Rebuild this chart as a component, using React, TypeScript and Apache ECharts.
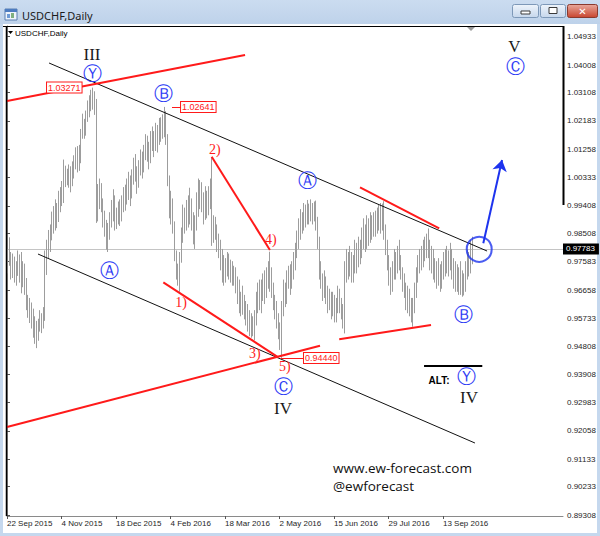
import React, { useEffect, useRef } from 'react';
import * as echarts from 'echarts';

// ---- axes ----
const tickBars = [0, 32, 64, 96, 128, 160, 192, 224, 256];
const tickLabels = ['22 Sep 2015', '4 Nov 2015', '18 Dec 2015', '4 Feb 2016', '18 Mar 2016', '2 May 2016', '15 Jun 2016', '29 Jul 2016', '13 Sep 2016'];
const priceTicks = [1.04933, 1.04008, 1.03108, 1.02183, 1.01258, 1.00333, 0.99408, 0.98508, 0.97583, 0.96658, 0.95733, 0.94808, 0.93908, 0.92983, 0.92058, 0.91133, 0.90233, 0.89308];
const priceMin = 0.89276;
const priceMax = 1.05283;
const barSlots = 326.5;
const lastPrice = 0.97783;

// ---- daily bars (high / low) ----
const highs = [
  0.9800, 0.9838, 0.9790, 0.9785, 0.9775, 0.9760, 0.9795, 0.9782, 0.9790, 0.9760,
  0.9752, 0.9705, 0.9650, 0.9640, 0.9625, 0.9605, 0.9580, 0.9565, 0.9572, 0.9600,
  0.9590, 0.9610, 0.9795, 0.9830, 0.9862, 0.9880, 0.9922, 0.9940, 0.9962, 0.9950,
  0.9990, 1.0002, 1.0022, 1.0092, 1.0072, 1.0062, 1.0076, 1.0070, 1.0086, 1.0106,
  1.0132, 1.0136, 1.0140, 1.0192, 1.0242, 1.0225, 1.0252, 1.0285, 1.0302, 1.0320,
  1.0327, 1.0315, 1.0290, 1.0012, 1.0030, 1.0015, 0.9965, 0.9925, 0.9895, 0.9885,
  0.9920, 0.9960, 0.9995, 0.9975, 0.9935, 0.9955, 0.9962, 0.9975, 1.0002, 1.0010,
  1.0030, 1.0052, 1.0040, 1.0060, 1.0098, 1.0110, 1.0070, 1.0090, 1.0125, 1.0118,
  1.0140, 1.0175, 1.0170, 1.0150, 1.0185, 1.0200, 1.0185, 1.0212, 1.0205, 1.0228,
  1.0230, 1.0240, 1.0264, 1.0250, 1.0175, 1.0040, 0.9990, 0.9965, 0.9890, 0.9795,
  0.9752, 0.9790, 0.9870, 0.9945, 0.9935, 0.9960, 0.9975, 1.0000, 0.9965, 0.9920,
  0.9910, 0.9985, 1.0030, 1.0025, 1.0018, 0.9985, 1.0005, 0.9990, 1.0005, 1.0030,
  1.0100, 0.9910, 0.9905, 0.9880, 0.9850, 0.9830, 0.9800, 0.9780, 0.9770, 0.9790,
  0.9785, 0.9765, 0.9760, 0.9745, 0.9740, 0.9710, 0.9700, 0.9660, 0.9680, 0.9650,
  0.9630, 0.9620, 0.9600, 0.9590, 0.9580, 0.9600, 0.9660, 0.9690, 0.9700, 0.9700,
  0.9720, 0.9730, 0.9740, 0.9760, 0.9791, 0.9740, 0.9690, 0.9650, 0.9630, 0.9590,
  0.9560, 0.9630, 0.9700, 0.9690, 0.9730, 0.9745, 0.9750, 0.9760, 0.9790, 0.9820,
  0.9860, 0.9900, 0.9930, 0.9920, 0.9950, 0.9945, 0.9960, 0.9948, 0.9962, 0.9950,
  0.9955, 0.9958, 0.9905, 0.9840, 0.9760, 0.9720, 0.9730, 0.9710, 0.9680, 0.9670,
  0.9660, 0.9660, 0.9650, 0.9640, 0.9680, 0.9670, 0.9640, 0.9620, 0.9760, 0.9800,
  0.9790, 0.9810, 0.9790, 0.9780, 0.9830, 0.9820, 0.9840, 0.9830, 0.9870, 0.9900,
  0.9880, 0.9910, 0.9900, 0.9920, 0.9910, 0.9920, 0.9925, 0.9935, 0.9945, 0.9950,
  0.9948, 0.9956, 0.9880, 0.9830, 0.9780, 0.9740, 0.9760, 0.9800, 0.9790, 0.9810,
  0.9830, 0.9780, 0.9740, 0.9720, 0.9690, 0.9680, 0.9670, 0.9640, 0.9640, 0.9690,
  0.9740, 0.9780, 0.9800, 0.9810, 0.9830, 0.9840, 0.9850, 0.9867, 0.9830, 0.9810,
  0.9800, 0.9770, 0.9760, 0.9770, 0.9750, 0.9760, 0.9790, 0.9800, 0.9810, 0.9795,
  0.9820, 0.9800, 0.9770, 0.9760, 0.9750, 0.9740, 0.9760, 0.9730, 0.9720, 0.9760,
  0.9800, 0.9790, 0.9830, 0.9840,
];
const lows = [
  0.9720, 0.9745, 0.9700, 0.9705, 0.9690, 0.9680, 0.9712, 0.9690, 0.9655, 0.9675,
  0.9650, 0.9600, 0.9575, 0.9558, 0.9540, 0.9510, 0.9490, 0.9476, 0.9500, 0.9530,
  0.9525, 0.9540, 0.9565, 0.9715, 0.9770, 0.9790, 0.9828, 0.9850, 0.9860, 0.9868,
  0.9888, 0.9920, 0.9940, 0.9950, 1.0002, 1.0008, 1.0000, 0.9985, 1.0005, 1.0030,
  1.0060, 1.0050, 1.0055, 1.0080, 1.0160, 1.0160, 1.0170, 1.0215, 1.0230, 1.0250,
  1.0255, 1.0238, 0.9885, 0.9890, 0.9930, 0.9920, 0.9870, 0.9840, 0.9798, 0.9790,
  0.9830, 0.9870, 0.9890, 0.9860, 0.9865, 0.9880, 0.9875, 0.9890, 0.9920, 0.9925,
  0.9945, 0.9960, 0.9940, 0.9965, 1.0010, 1.0020, 0.9980, 1.0000, 1.0040, 1.0030,
  1.0050, 1.0090, 1.0085, 1.0060, 1.0080, 1.0120, 1.0100, 1.0120, 1.0115, 1.0140,
  1.0150, 1.0160, 1.0165, 1.0140, 1.0005, 0.9900, 0.9880, 0.9850, 0.9760, 0.9700,
  0.9680, 0.9660, 0.9755, 0.9820, 0.9850, 0.9860, 0.9870, 0.9880, 0.9860, 0.9815,
  0.9800, 0.9860, 0.9905, 0.9930, 0.9920, 0.9880, 0.9895, 0.9900, 0.9910, 0.9930,
  0.9810, 0.9820, 0.9830, 0.9790, 0.9770, 0.9730, 0.9690, 0.9680, 0.9690, 0.9710,
  0.9700, 0.9690, 0.9680, 0.9680, 0.9655, 0.9620, 0.9590, 0.9580, 0.9585, 0.9570,
  0.9550, 0.9530, 0.9515, 0.9510, 0.9515, 0.9502, 0.9550, 0.9590, 0.9600, 0.9590,
  0.9630, 0.9620, 0.9640, 0.9670, 0.9660, 0.9640, 0.9600, 0.9570, 0.9540, 0.9505,
  0.9470, 0.9444, 0.9580, 0.9610, 0.9620, 0.9670, 0.9650, 0.9670, 0.9700, 0.9730,
  0.9770, 0.9800, 0.9830, 0.9850, 0.9860, 0.9870, 0.9880, 0.9880, 0.9890, 0.9880,
  0.9890, 0.9860, 0.9800, 0.9700, 0.9670, 0.9630, 0.9640, 0.9620, 0.9590, 0.9600,
  0.9570, 0.9580, 0.9560, 0.9560, 0.9590, 0.9590, 0.9570, 0.9540, 0.9524, 0.9690,
  0.9700, 0.9710, 0.9690, 0.9690, 0.9720, 0.9720, 0.9740, 0.9750, 0.9770, 0.9800,
  0.9790, 0.9800, 0.9810, 0.9820, 0.9830, 0.9840, 0.9840, 0.9850, 0.9860, 0.9850,
  0.9860, 0.9830, 0.9780, 0.9730, 0.9680, 0.9650, 0.9660, 0.9700, 0.9700, 0.9720,
  0.9730, 0.9700, 0.9660, 0.9640, 0.9600, 0.9590, 0.9580, 0.9560, 0.9546, 0.9590,
  0.9640, 0.9690, 0.9720, 0.9730, 0.9740, 0.9760, 0.9770, 0.9770, 0.9730, 0.9720,
  0.9700, 0.9690, 0.9670, 0.9680, 0.9660, 0.9670, 0.9700, 0.9710, 0.9720, 0.9710,
  0.9730, 0.9700, 0.9670, 0.9660, 0.9660, 0.9650, 0.9650, 0.9644, 0.9648, 0.9660,
  0.9700, 0.9710, 0.9720, 0.9750,
];

// ---- annotations in chart units: [bar, price] ----
type P = [number, number];
const redTrendLines: P[][] = [
  [[0, 1.02832], [139.8, 1.04335]],
  [[0, 0.92183], [183.8, 0.94839]],
  [[91.8, 0.9691], [159.3, 0.9446]],
  [[120.2, 1.01013], [154.4, 0.97965]],
  [[207.3, 1.00013], [253.8, 0.98674]],
  [[195.1, 0.95048], [249.0, 0.95515]],
];
const blackTrendLines: P[][] = [
  [[24.7, 1.04074], [281.9, 0.97932]],
  [[18.2, 0.97834], [274.8, 0.9166]],
];
const tagLeaders: P[][] = [
  [[96.9, 1.02641], [102.2, 1.02641]],
  [[160.7, 0.9444], [174.4, 0.9444]],
];
const altRule: P[] = [[244.9, 0.94175], [279.1, 0.94175]];
const breakoutArrow: P[] = [[279.7, 0.98184], [290.7, 1.00905]];
const breakoutCircle: P = [277.3, 0.97988];

type L = [number, number, string];
const romanLabels: L[] = [
  [49.9, 1.04367, 'III'], [162.1, 0.92803, 'IV'], [271.3, 0.93163, 'IV'], [298.0, 1.04629, 'V'],
];
const circledLabels: L[] = [
  [50.2, 1.03747, 'Ⓨ'], [92.0, 1.03084, 'Ⓑ'], [176.2, 1.00252, 'Ⓐ'], [60.2, 0.97328, 'Ⓐ'],
  [267.8, 0.95874, 'Ⓑ'], [162.1, 0.93532, 'Ⓒ'], [298.9, 1.03975, 'Ⓒ'], [270.1, 0.93849, 'Ⓨ'],
];
const subwaveLabels: L[] = [
  [102.2, 0.96266, '1)'], [122.1, 1.01264, '2)'], [145.6, 0.94584, '3)'], [155.0, 0.98324, '4)'], [163.2, 0.94152, '5)'],
];
const priceTags: L[] = [
  [23.5, 1.03271, '1.03271'], [102.2, 1.02641, '1.02641'], [174.4, 0.9444, '0.94440'],
];
const altLabel: L[] = [[253.7, 0.93718, 'ALT:']];

const BLUE = '#1d33ee';
const CIRCLE_BLUE = '#2f3cf5';
const RED = '#ff1a1a';

function textSeries(items: L[], style: any) {
  return {
    type: 'custom',
    silent: true,
    clip: false,
    z: 8,
    data: items.map((d) => [d[0], d[1]]),
    encode: { x: 0, y: 1 },
    renderItem: (params: any, api: any) => {
      const d = items[params.dataIndex];
      const p = api.coord([d[0], d[1]]);
      return {
        type: 'text',
        x: p[0],
        y: p[1],
        style: { text: d[2], align: 'center', verticalAlign: 'middle', ...style },
      };
    },
  };
}

function linesSeries(segs: P[][], color: string, width: number, extra: any = {}) {
  return {
    type: 'lines',
    coordinateSystem: 'cartesian2d',
    silent: true,
    z: 6,
    data: segs.map((c) => ({ coords: c })),
    lineStyle: { color, width, opacity: 1, type: 'solid' },
    symbol: 'none',
    ...extra,
  };
}

export default function App() {
  const ref = useRef<HTMLDivElement>(null);
  useEffect(() => {
    const chart = echarts.init(ref.current!, null, { renderer: 'svg' });
    const sans = '"Liberation Sans", Arial, sans-serif';
    const option: any = {
      animation: false,
      backgroundColor: '#c5d8ee',
      textStyle: { fontFamily: sans },
      grid: { left: 7, right: 37, top: 26, bottom: 20, containLabel: false, outerBoundsMode: 'none' },
      xAxis: {
        type: 'value',
        min: 0,
        max: barSlots,
        splitLine: { show: false },
        axisLine: { show: true, onZero: false, lineStyle: { color: '#8a8a8a', width: 1 } },
        axisTick: { show: true, length: 3, customValues: tickBars, lineStyle: { color: '#555' } },
        axisLabel: {
          customValues: tickBars,
          formatter: (v: number) => tickLabels[Math.round(v / 32)] ?? '',
          align: 'left',
          margin: 3,
          fontSize: 8,
          fontFamily: sans,
          color: '#1e1e1e',
        },
      },
      yAxis: {
        type: 'value',
        position: 'right',
        min: priceMin,
        max: priceMax,
        splitLine: { show: false },
        axisLine: { show: true, lineStyle: { color: '#8a8a8a', width: 1 } },
        axisTick: { show: true, length: 3, customValues: priceTicks, lineStyle: { color: '#555' } },
        axisLabel: {
          customValues: priceTicks,
          formatter: (v: number) => v.toFixed(5),
          margin: 4,
          fontSize: 8,
          fontFamily: sans,
          color: '#1e1e1e',
        },
      },
      series: [
        {
          type: 'custom',
          name: 'USDCHF',
          silent: true,
          z: 3,
          data: highs.map((h, i) => [i, lows[i], h]),
          encode: { x: 0, y: [1, 2] },
          renderItem: (params: any, api: any) => {
            const top = api.coord([api.value(0), api.value(2)]);
            const bot = api.coord([api.value(0), api.value(1)]);
            const x = Math.round(top[0]) + 0.5;
            return {
              type: 'line',
              shape: { x1: x, y1: top[1], x2: x, y2: bot[1] },
              style: { stroke: '#9d9d9d', lineWidth: 1 },
            };
          },
        },
        linesSeries(blackTrendLines, '#111', 1),
        linesSeries(redTrendLines, RED, 2),
        linesSeries(tagLeaders, RED, 1),
        linesSeries([altRule], '#000', 2),
        linesSeries([breakoutArrow], BLUE, 2, { symbol: ['none', 'arrow'], symbolSize: [0, 11] }),
        {
          type: 'scatter',
          silent: true,
          z: 7,
          data: [breakoutCircle],
          symbol: 'circle',
          symbolSize: 25,
          itemStyle: { color: 'rgba(0,0,0,0)', borderColor: BLUE, borderWidth: 2 },
          markLine: {
            silent: true,
            symbol: 'none',
            z: 1,
            data: [{ yAxis: lastPrice }],
            lineStyle: { color: '#c4c4c4', width: 1, type: 'solid' },
            label: {
              show: true,
              position: 'end',
              formatter: lastPrice.toFixed(5),
              backgroundColor: '#000',
              color: '#fff',
              fontSize: 8,
              fontFamily: sans,
              padding: [2, 4, 1, 3],
              distance: 0,
            },
          },
        },
        textSeries(romanLabels, { fill: '#1a1a1a', font: '17px "Liberation Serif", serif' }),
        textSeries(circledLabels, { fill: CIRCLE_BLUE, font: '19px "DejaVu Sans", sans-serif' }),
        textSeries(subwaveLabels, { fill: RED, font: '14px "Liberation Serif", serif' }),
        textSeries(altLabel, { fill: '#000', font: 'bold 10px "Liberation Sans", sans-serif' }),
        textSeries(priceTags, {
          fill: RED,
          font: '9px "Liberation Sans", sans-serif',
          align: 'left',
          backgroundColor: '#fff',
          borderColor: RED,
          borderWidth: 1,
          padding: [1, 1, 0, 1],
        }),
      ],
      graphic: [
        // chart panel + title bar
        { type: 'rect', z: -10, shape: { x: 3, y: 24, width: 594, height: 509 }, style: { fill: '#ffffff' } },
        {
          type: 'rect', z: -10, shape: { x: 0, y: 0, width: 600, height: 24 },
          style: { fill: new echarts.graphic.LinearGradient(0, 0, 0, 1, [{ offset: 0, color: '#cbdcf0' }, { offset: 1, color: '#bed2ea' }]) },
        },
        // window icon
        { type: 'rect', z: 20, shape: { x: 5, y: 9, width: 12, height: 11 }, style: { fill: '#eef4fb', stroke: '#5a7eb0', lineWidth: 1 } },
        { type: 'rect', z: 20, shape: { x: 5, y: 9, width: 12, height: 3 }, style: { fill: '#4d7cc0' } },
        { type: 'rect', z: 20, shape: { x: 7, y: 14, width: 3, height: 4 }, style: { fill: '#6e9bd6' } },
        { type: 'rect', z: 20, shape: { x: 11, y: 13, width: 3, height: 5 }, style: { fill: '#7fb07f' } },
        { type: 'text', z: 20, x: 22, y: 15, style: { text: 'USDCHF,Daily', fill: '#1b1b1b', font: '11px "Noto Sans", sans-serif', verticalAlign: 'middle' } },
        // window buttons
        {
          type: 'rect', z: 20, shape: { x: 512.5, y: 4.5, width: 26, height: 13, r: 2 },
          style: { fill: new echarts.graphic.LinearGradient(0, 0, 0, 1, [{ offset: 0, color: '#eef4fb' }, { offset: 1, color: '#c6d7ec' }]), stroke: '#7d98b8', lineWidth: 1 },
        },
        { type: 'rect', z: 21, shape: { x: 521, y: 11, width: 9, height: 3 }, style: { fill: '#fff', stroke: '#3a3a3a', lineWidth: 1 } },
        {
          type: 'rect', z: 20, shape: { x: 540.5, y: 4.5, width: 25, height: 13, r: 2 },
          style: { fill: new echarts.graphic.LinearGradient(0, 0, 0, 1, [{ offset: 0, color: '#eef4fb' }, { offset: 1, color: '#c6d7ec' }]), stroke: '#7d98b8', lineWidth: 1 },
        },
        { type: 'rect', z: 21, shape: { x: 549, y: 7.5, width: 8, height: 6 }, style: { fill: '#fff', stroke: '#3a3a3a', lineWidth: 1 } },
        {
          type: 'rect', z: 20, shape: { x: 567.5, y: 4.5, width: 30, height: 13, r: 2 },
          style: { fill: new echarts.graphic.LinearGradient(0, 0, 0, 1, [{ offset: 0, color: '#e9a99c' }, { offset: 1, color: '#c8452f' }]), stroke: '#8a3a2e', lineWidth: 1 },
        },
        { type: 'text', z: 21, x: 582.5, y: 11, style: { text: '✕', fill: '#fff', font: 'bold 10px "DejaVu Sans", sans-serif', align: 'center', verticalAlign: 'middle' } },
        // plot frame accents
        { type: 'line', z: 20, shape: { x1: 3, y1: 26.5, x2: 564, y2: 26.5 }, style: { stroke: '#000', lineWidth: 1 } },
        { type: 'line', z: 20, shape: { x1: 6.5, y1: 26, x2: 6.5, y2: 516 }, style: { stroke: '#000', lineWidth: 1.5 } },
        { type: 'line', z: 20, shape: { x1: 563.5, y1: 26, x2: 563.5, y2: 205 }, style: { stroke: '#000', lineWidth: 2 } },
        { type: 'polygon', z: 20, shape: { points: [[467, 27], [475, 27], [471, 31]] }, style: { fill: '#9a9a9a' } },
        { type: 'polygon', z: 20, shape: { points: [[8, 31], [13, 31], [10.5, 34]] }, style: { fill: '#000' } },
        { type: 'text', z: 20, x: 15, y: 33, style: { text: 'USDCHF,Daily', fill: '#000', font: '8px "Liberation Sans", sans-serif', verticalAlign: 'middle' } },
        // watermark
        { type: 'text', z: 20, x: 333, y: 468, style: { text: 'www.ew-forecast.com', fill: '#111', font: '13.5px "Open Sans", sans-serif', verticalAlign: 'middle' } },
        { type: 'text', z: 20, x: 333, y: 486, style: { text: '@ewforecast', fill: '#111', font: '13.5px "Open Sans", sans-serif', verticalAlign: 'middle' } },
      ],
    };
    chart.setOption(option);
    return () => chart.dispose();
  }, []);
  return <div ref={ref} style={{ position: 'fixed', left: 0, top: 0, width: 600, height: 536 }} />;
}
